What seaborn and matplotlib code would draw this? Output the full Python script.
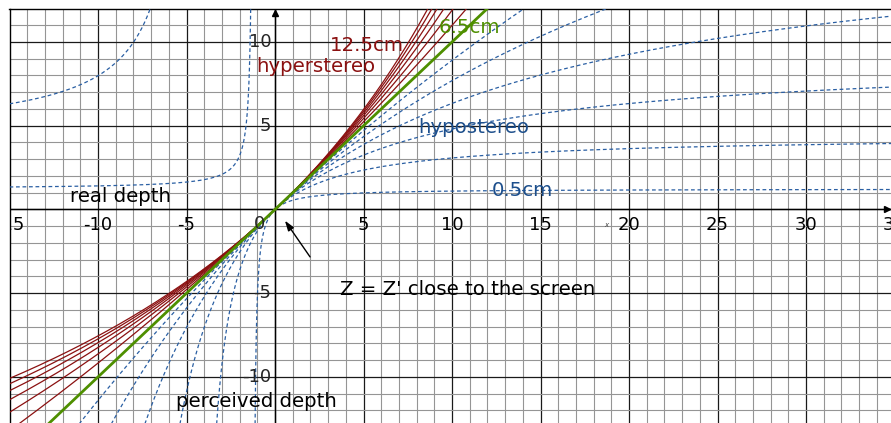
import numpy as np
import pandas as pd
import matplotlib
matplotlib.use("Agg")
import matplotlib.pyplot as plt
import seaborn as sns

# ---- data ----
eye_sep = 6.5                                   # cm, viewer interocular distance
hypo_bases = [0.5, 1.5, 2.5, 3.5, 4.5, 5.5]      # camera separations (cm), hypostereo
hyper_bases = [7.5, 8.5, 9.5, 10.5, 11.5, 12.5]  # camera separations (cm), hyperstereo
ortho_base = [6.5]
depth_scale = 14.8                              # distance constant of the model
x_ticks = [-15, -10, -5, 5, 10, 15, 20, 25, 30, 35]
y_ticks = [10, 5, -5, -10]

XMIN, XMAX = -15.0, 34.8
YMIN, YMAX = -12.75, 11.97


def curves(bases):
    rows = []
    z = np.linspace(XMIN, XMAX + 0.5, 6001)
    for b in bases:
        c = (eye_sep - b) / (b * depth_scale)
        zp = z / (1.0 + c * z)
        if c != 0:
            pole = -1.0 / c
            seg = (z > pole).astype(int)
        else:
            seg = np.zeros_like(z, dtype=int)
        keep = np.abs(zp) < 60
        for zi, yi, si in zip(z[keep], zp[keep], seg[keep]):
            rows.append((b, f"{b}_{si}", zi, yi))
    return pd.DataFrame(rows, columns=["base", "unit", "Z", "Zp"])


df_hypo = curves(hypo_bases)
df_hyper = curves(hyper_bases)
df_ortho = curves(ortho_base)

sns.set_style("white")
plt.rcParams["font.family"] = ["DejaVu Sans"]

W, H = 891, 423
fig = plt.figure(figsize=(W / 100, H / 100), dpi=100)
ax = fig.add_axes([9.5 / W, 0, 1 - 9.5 / W, (H - 9) / H])
ax.set_xlim(XMIN, XMAX)
ax.set_ylim(YMIN, YMAX)

# grid
for v in range(-15, 36):
    major = v % 5 == 0
    ax.axvline(v, color="#1a1a1a" if major else "#959595",
               lw=0.9 if major else 0.8, zorder=0)
for v in range(-13, 13):
    major = v % 5 == 0
    ax.axhline(v, color="#1a1a1a" if major else "#959595",
               lw=0.9 if major else 0.8, zorder=0)
ax.axhline(0, color="black", lw=1.0, zorder=1)
ax.axvline(0, color="black", lw=1.0, zorder=1)

blue = "#2a5fa3"
red = "#8b1111"
green = "#4e8f00"

sns.lineplot(data=df_hypo, x="Z", y="Zp", units="unit", estimator=None,
             sort=True, color=blue, lw=0.9, linestyle=(0, (3, 2.2)), ax=ax,
             legend=False, zorder=3)
sns.lineplot(data=df_hyper, x="Z", y="Zp", units="unit", estimator=None,
             sort=True, color=red, lw=0.9, ax=ax, legend=False, zorder=4)
sns.lineplot(data=df_ortho, x="Z", y="Zp", units="unit", estimator=None,
             sort=True, color=green, lw=2.0, ax=ax, legend=False, zorder=5)

# axis arrows
ax.plot([0], [YMAX - 0.25], marker="^", color="black", ms=4, clip_on=False, zorder=6)
ax.plot([XMAX - 0.25], [0], marker=">", color="black", ms=4, clip_on=False, zorder=6)

# tick labels as text
for t in x_ticks:
    ax.text(t, -0.95, f"{t}", ha="center", va="center", fontsize=13,
            color="black", clip_on=True, zorder=7)
ax.text(-0.85, -0.85, "0", ha="center", va="center", fontsize=13, zorder=7)
for t in y_ticks:
    ax.text(-0.2, t, f"{t}", ha="right", va="center", fontsize=13, zorder=7)
ax.text(18.7, -0.92, "x", fontsize=5, style="italic", ha="center", va="center",
        color="#444444", zorder=7)

fs = 14.2
ax.text(3.11, 9.48, "12.5cm", color=red, fontsize=fs, zorder=8)
ax.text(-1.07, 8.23, "hyperstereo", color=red, fontsize=fs, zorder=8)
ax.text(9.27, 10.52, "6.5cm", color=green, fontsize=fs, zorder=8)
ax.text(8.08, 4.59, "hypostereo", color="#1d4f8c", fontsize=fs, zorder=8)
ax.text(12.26, 0.81, "0.5cm", color="#1d4f8c", fontsize=fs, zorder=8)
ax.text(-11.58, 0.43, "real depth", color="black", fontsize=fs, zorder=8)
ax.text(-5.59, -11.81, "perceived depth", color="black", fontsize=fs, zorder=8)
ax.text(3.67, -5.10, "Z = Z' close to the screen", color="black", fontsize=fs, zorder=8)

ax.annotate("", xy=(0.47, -0.53), xytext=(2.07, -2.97),
            arrowprops=dict(arrowstyle="-|>,head_length=0.6,head_width=0.2",
                            color="black", lw=1.0), zorder=8)

ax.set_xlabel("")
ax.set_ylabel("")
ax.set_xticks([])
ax.set_yticks([])
for s in ["right", "bottom"]:
    ax.spines[s].set_visible(False)
for s in ["top", "left"]:
    ax.spines[s].set_color("black")
    ax.spines[s].set_linewidth(1.0)

fig.savefig("out.png", dpi=100)
